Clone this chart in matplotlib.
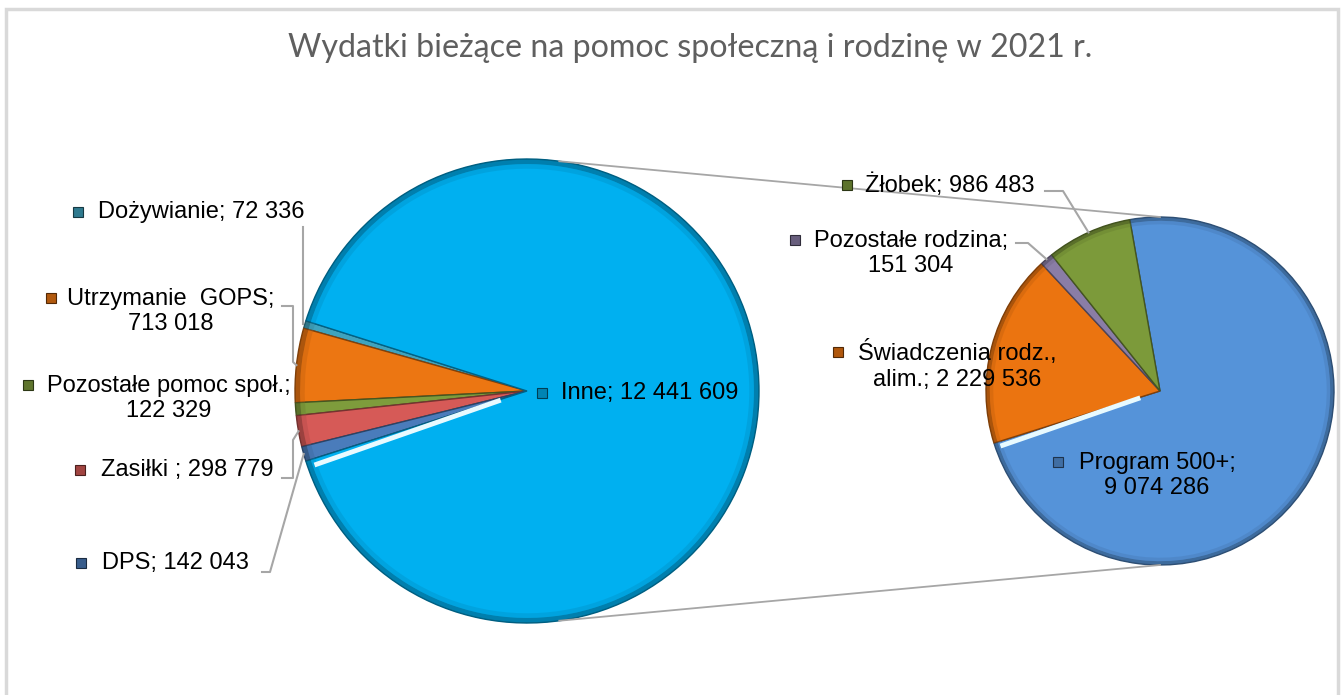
import matplotlib.pyplot as plt
import matplotlib.colors as mcolors
from matplotlib.patches import Wedge, Rectangle
import numpy as np

W, H = 1344, 695

# dane - lewy wykres (pomoc społeczna + "Inne" = rodzina)
left_names = ["Dożywianie", "Utrzymanie  GOPS", "Pozostałe pomoc społ.", "Zasiłki ", "DPS", "Inne"]
left_values = [72336, 713018, 122329, 298779, 142043, 12441609]
left_colors = ["#3FA3BE", "#EC7612", "#7E9C3C", "#D65A57", "#4A7CBB", "#00B0F0"]

# dane - prawy wykres (rozbicie "Inne")
right_names = ["Program 500+", "Świadczenia rodz., alim.", "Pozostałe rodzina", "Żłobek"]
right_values = [9074286, 2229536, 151304, 986483]
right_colors = ["#5593D9", "#EB7410", "#8A7DA6", "#7C9A3A"]

title = "Wydatki bieżące na pomoc społeczną i rodzinę w 2021 r."

# uklad etykiet (piksele): srodek tekstu x, y pierwszej linii, x znacznika, miejsce lamania
left_layout = [(201, 212, 78, None), (171, 298, 51, "; "), (169, 385, 28, "; "),
               (187, 470, 80, None), (175, 563, 81, None), (650, 393, 542, None)]
right_layout = [(1157, 462, 1058, "; "), (957, 352, 838, "., "), (911, 240, 795, "; "),
                (950, 185, 847, None)]

L_C, L_R = (527, 391), 232
R_C, R_R = (1160, 391), 174


def fmt(v):
    return f"{v:,}".replace(",", " ")


def darker(c, f=0.6):
    r, g, b = mcolors.to_rgb(c)
    return (r * f, g * f, b * f)


def py(y):
    return H - y


fig = plt.figure(figsize=(W / 100, H / 100), dpi=100)
ax = fig.add_axes([0, 0, 1, 1])

small_frac = sum(left_values[:-1]) / sum(left_values)
wl, _ = ax.pie(left_values, colors=left_colors, center=(L_C[0], py(L_C[1])), radius=L_R,
               startangle=180 - small_frac * 180, counterclock=True, frame=True)
wr, _ = ax.pie(right_values, colors=right_colors, center=(R_C[0], py(R_C[1])), radius=R_R,
               startangle=100, counterclock=False, frame=True)


def shade(wedges, colors):
    for w, c in zip(wedges, colors):
        w.set_edgecolor(darker(c, 0.55))
        w.set_linewidth(1.0)
        r = w.r
        # ciemniejszy brzeg (imitacja fazy)
        ax.add_patch(Wedge(w.center, r, w.theta1, w.theta2, width=r * 0.022,
                           facecolor=darker(c, 0.5), edgecolor="none", alpha=0.55))
        ax.add_patch(Wedge(w.center, r * 0.978, w.theta1, w.theta2, width=r * 0.02,
                           facecolor=darker(c, 0.8), edgecolor="none", alpha=0.35))


shade(wl, left_colors)
shade(wr, right_colors)


def highlight(ang, r, cx, cy):
    a = np.radians(ang)
    ax.plot([cx + 0.12 * r * np.cos(a), cx + 0.97 * r * np.cos(a)],
            [cy + 0.12 * r * np.sin(a), cy + 0.97 * r * np.sin(a)],
            color="#E8FAFF", lw=3.5, solid_capstyle="butt", zorder=3)


# jasne pasy przy dolnej krawedzi "Inne" i "Program 500+"
highlight(wl[-1].theta1 + 1.6, L_R, L_C[0], py(L_C[1]))
highlight(wr[0].theta1 + 1.6, R_R, R_C[0], py(R_C[1]))

# linie laczace
for la, ra in [(82, 90), (-82, -90)]:
    x1 = L_C[0] + L_R * np.cos(np.radians(la))
    y1 = py(L_C[1]) + L_R * np.sin(np.radians(la))
    x2 = R_C[0] + R_R * np.cos(np.radians(ra))
    y2 = py(R_C[1]) + R_R * np.sin(np.radians(ra))
    ax.plot([x1, x2], [y1, y2], color="#A6A6A6", lw=1.3, zorder=1)


def labels(names, values, colors, layout):
    for n, v, c, (cx, y1, mx, brk) in zip(names, values, colors, layout):
        txt = f"{n}; {fmt(v)}"
        if brk:
            i = txt.index(brk) + len(brk)
            txt = txt[:i].rstrip() + "\n" + txt[i:]
        nlines = txt.count("\n") + 1
        yc = y1 + (nlines - 1) * 13.5
        ax.text(cx, py(yc), txt, ha="center", va="center", multialignment="center",
                fontsize=17, family="Liberation Sans", color="black", zorder=6,
                linespacing=1.2)
        ax.plot(mx, py(y1), marker="s", ms=6.5, color=darker(c, 0.75),
                mec=darker(c, 0.35), mew=0.8, zorder=6)


labels(left_names, left_values, left_colors, left_layout)
labels(right_names, right_values, right_colors, right_layout)


def rim_point(w):
    a = np.radians((w.theta1 + w.theta2) / 2)
    return w.center[0] + w.r * np.cos(a), w.center[1] + w.r * np.sin(a)


# linie odniesienia
lc = "#A6A6A6"
leaders = [(wl[0], [(303, 227)]),
           (wl[1], [(282, 306), (293, 306), (293, 362)]),
           (wl[3], [(282, 478), (293, 478), (293, 440)]),
           (wl[4], [(262, 572), (270, 572)]),
           (wr[3], [(1045, 191), (1063, 191)]),
           (wr[2], [(1016, 243), (1028, 243)])]
for w, pts in leaders:
    ex, ey = rim_point(w)
    xs = [p[0] for p in pts] + [ex]
    ys = [py(p[1]) for p in pts] + [ey]
    if len(pts) == 1:
        xs[-1] = pts[0][0]
    ax.plot(xs, ys, color=lc, lw=1.5, zorder=2)

ax.text(690, py(48), title, ha="center", va="center", fontsize=23.2,
        family="Lato", color="#5F5F5F")

ax.add_patch(Rectangle((6, py(705)), 1332, 696, facecolor="none",
                       edgecolor="#D9D9D9", lw=2.5, zorder=0))

ax.set_xlim(0, W)
ax.set_ylim(0, H)
ax.set_aspect("equal")
ax.axis("off")

fig.savefig("out.png", dpi=100)
